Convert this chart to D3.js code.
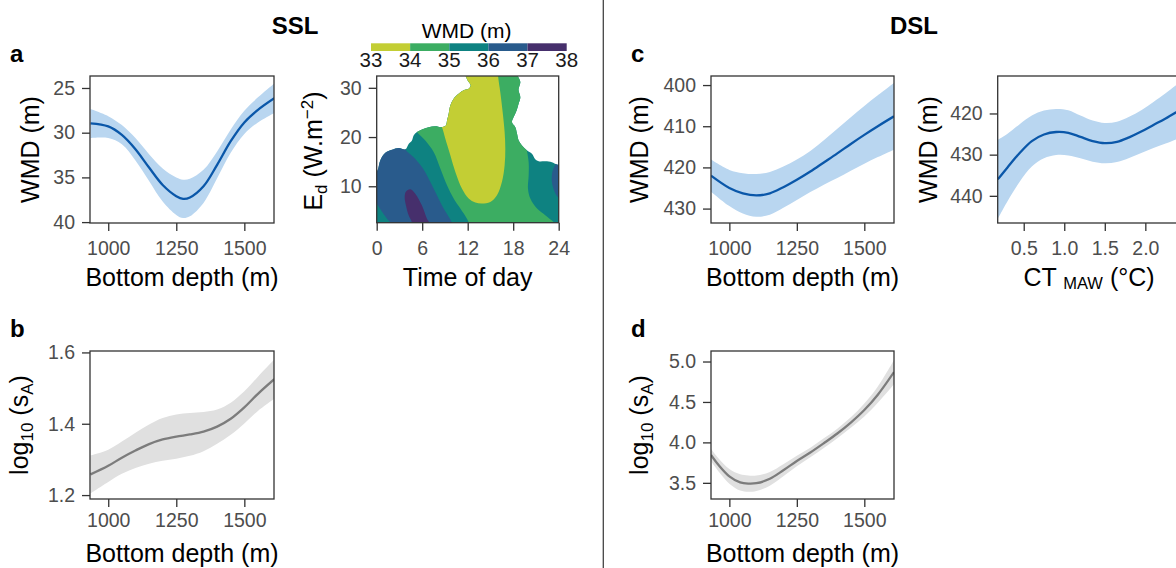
<!DOCTYPE html>
<html>
<head>
<meta charset="utf-8">
<script src="https://cdn.jsdelivr.net/npm/d3@7"></script>
<style>
  body { margin: 0; background: #ffffff; }
  svg { display: block; }
</style>
</head>
<body>
<div id="chart"></div>
<script>

// ---- panel a : SSL, WMD vs bottom depth ----
var depthA = [935, 1000, 1050, 1100, 1150, 1200, 1250, 1275, 1300, 1350, 1400, 1450, 1500, 1550, 1610];
var wmdA   = [28.95, 29.3, 30.25, 31.85, 33.9, 35.85, 37.1, 37.4, 37.25, 36.0, 33.6, 30.95, 28.85, 27.45, 26.15];
var wmdALo = [27.35, 28.15, 29.15, 30.6, 32.4, 34.0, 35.0, 35.25, 35.15, 34.15, 32.1, 29.65, 27.55, 26.05, 24.5];
var wmdAHi = [30.6, 30.6, 31.3, 33.1, 35.4, 37.7, 39.2, 39.55, 39.35, 37.85, 35.1, 32.25, 30.15, 28.85, 27.8];

// ---- panel b : SSL, log10(sA) vs bottom depth ----
var depthB = [935, 1000, 1050, 1100, 1150, 1200, 1250, 1300, 1350, 1400, 1450, 1500, 1550, 1610];
var saB    = [1.258, 1.282, 1.305, 1.325, 1.343, 1.356, 1.364, 1.370, 1.378, 1.392, 1.414, 1.446, 1.484, 1.525];
var saBLo  = [1.205, 1.237, 1.26, 1.276, 1.288, 1.296, 1.302, 1.31, 1.323, 1.344, 1.369, 1.401, 1.436, 1.47];
var saBHi  = [1.311, 1.327, 1.35, 1.375, 1.398, 1.416, 1.426, 1.43, 1.433, 1.44, 1.459, 1.491, 1.532, 1.58];

// ---- panel c : DSL, WMD vs bottom depth ----
var depthC = [932, 1000, 1050, 1100, 1150, 1200, 1250, 1300, 1350, 1400, 1450, 1500, 1550, 1610];
var wmdC   = [422.0, 425.0, 426.3, 426.8, 426.3, 424.8, 423.0, 421.0, 418.8, 416.6, 414.3, 412.1, 410.0, 407.6];
var wmdCLo = [418.1, 420.6, 421.4, 421.6, 421.1, 419.8, 418.1, 416.0, 413.4, 410.6, 407.8, 405.1, 402.5, 399.5];
var wmdCHi = [425.9, 429.4, 431.2, 432.0, 431.5, 429.8, 427.9, 426.0, 424.2, 422.6, 420.8, 419.1, 417.5, 415.7];

// ---- panel c (right) : DSL, WMD vs CT MAW ----
var ctE    = [0.18, 0.3, 0.45, 0.6, 0.75, 0.9, 1.05, 1.2, 1.35, 1.5, 1.65, 1.8, 1.95, 2.1, 2.25, 2.44];
var wmdE   = [436.0, 433.1, 429.6, 426.7, 425.1, 424.5, 424.7, 425.7, 426.7, 427.2, 426.9, 425.8, 424.4, 422.8, 421.2, 419.0];
var wmdELo = [426.4, 424.9, 422.6, 420.5, 419.3, 418.9, 419.2, 420.5, 421.7, 422.3, 422.0, 420.8, 419.2, 417.2, 415.1, 412.2];
var wmdEHi = [445.6, 441.3, 436.6, 432.9, 430.9, 430.1, 430.2, 430.9, 431.7, 432.1, 431.8, 430.8, 429.6, 428.4, 427.3, 425.8];

// ---- panel d : DSL, log10(sA) vs bottom depth ----
var depthD = [932, 960, 1000, 1040, 1070, 1100, 1150, 1200, 1250, 1300, 1350, 1400, 1450, 1500, 1550, 1610];
var saD    = [3.845, 3.72, 3.58, 3.505, 3.49, 3.495, 3.55, 3.655, 3.77, 3.875, 3.99, 4.11, 4.245, 4.40, 4.59, 4.87];
var saDLo  = [3.77, 3.64, 3.49, 3.405, 3.39, 3.40, 3.465, 3.58, 3.705, 3.815, 3.93, 4.05, 4.18, 4.32, 4.49, 4.72];
var saDHi  = [3.92, 3.80, 3.67, 3.605, 3.59, 3.59, 3.635, 3.73, 3.835, 3.935, 4.05, 4.17, 4.31, 4.48, 4.69, 5.02];

// ---- contour panel : WMD over time of day x Ed, boundaries as [hour, Ed] ----
var wmdLevels = [33, 34, 35, 36, 37, 38];
var wmdColors = ['#c3ce34', '#3cad62', '#0e8281', '#295b8c', '#462f6c'];

// outer edge of the predicted area (outside is blank)
var maskEdge = [[-0.3, 12.5], [0.1, 13.2], [0.48, 15.3], [1.14, 16.8], [2.02, 17.4], [2.9, 17.75],
  [3.78, 17.5], [4.21, 18.6], [4.65, 19.3], [4.87, 20.3], [5.31, 21.0], [5.97, 21.55], [6.85, 22.0],
  [7.73, 22.2], [8.5, 22.05], [9.1, 22.3], [9.3, 23.5], [9.49, 24.7], [9.71, 26.4], [10.15, 27.8],
  [10.81, 28.8], [11.47, 29.5], [12.13, 29.8], [12.4, 30.5], [12.0, 31.5], [11.7, 32.6], [11.6, 34.5],
  [18.5, 34.5], [18.6, 32.5], [18.94, 31.2], [18.7, 29.6], [18.94, 28.1], [18.72, 26.8], [18.45, 25.4],
  [18.06, 24.05], [17.84, 23.0], [18.28, 22.0], [18.5, 20.7], [18.72, 19.3], [19.16, 18.3], [19.8, 17.3],
  [20.47, 16.6], [20.9, 15.5], [21.36, 15.06], [22.23, 15.06], [23.1, 14.9], [23.77, 14.4], [24.5, 14.0]];
var maskTail = [[24.5, 1], [-0.3, 1]];

// 36-37 m band, left part
var blueEdge = [[3.6, 19.5], [3.78, 17.5], [4.87, 15.9], [5.97, 13.9], [6.85, 11.55], [7.73, 8.85],
  [8.61, 6.1], [9.49, 3.8], [9.93, 2.6], [10.2, 1.5]];
var blueCorner = [[1.9, 1.5], [1.8, 2.6], [1.36, 3.4], [0.7, 4.8], [0.17, 6.1], [-0.5, 7.4]];
var blueTail = [[-0.5, 19.5]];

// 36-37 m band, right sliver
var blueRight = [[24.5, 15.5], [23.77, 14.8], [23.46, 14.1], [23.16, 12.9], [23.1, 10.9], [23.38, 9.2],
  [23.77, 8.0], [24.5, 7.0]];

// 37-38 m
var purpleEdge = [[4.6, 1.5], [4.65, 2.6], [4.21, 4.1], [3.86, 6.1], [3.69, 7.8], [3.85, 8.9], [4.43, 9.4],
  [5.09, 8.5], [5.97, 6.1], [6.63, 3.4], [6.94, 2.6], [7.1, 1.5]];

// 34-35 m
var greenLeft = [[12.25, 1.5], [12.13, 2.6], [11.9, 3.4], [11.03, 5.46], [10.15, 7.5], [9.27, 10.2],
  [8.39, 13.6], [7.51, 16.96], [6.41, 19.3], [5.31, 21.0], [4.9, 22.5]];
var greenTop = [[4.9, 35], [20.3, 35], [20.3, 17.9]];
var greenRight = [[19.75, 17.6], [19.8, 17.3], [20.04, 14.9], [20.04, 12.2], [19.95, 9.5], [20.26, 7.5],
  [21.14, 5.46], [22.23, 4.1], [23.33, 2.76], [23.6, 2.5], [24.5, 1.8]];
var greenTail = [[24.5, 1.5]];

// 33-34 m
var yellowEdge = [[8.3, 22.8], [8.61, 22.0], [9.05, 19.66], [9.71, 16.3], [10.37, 12.9], [11.25, 9.5],
  [12.13, 7.5], [13.0, 6.7], [13.88, 6.5], [14.98, 6.8], [15.86, 8.17], [16.52, 10.9], [16.87, 14.25],
  [16.96, 17.6], [16.87, 21.0], [16.61, 25.1], [16.3, 29.1], [16.0, 32.5], [15.95, 35]];
var yellowTail = [[8.3, 35]];

// tick labels
var depthTicks = [1000, 1250, 1500];
var hourTicks = [0, 6, 12, 18, 24];
var edTicks = [10, 20, 30];
var ctTicks = [0.5, 1.0, 1.5, 2.0];


var font = 'Arial, "Liberation Sans", sans-serif';
var axis_color = '#333333';
var tick_color = '#4d4d4d';
var band_blue = '#b9d6f0', line_blue = '#0a57a9';
var band_grey = '#e0e0e0', line_grey = '#7c7c7c';

var svg = d3.select('#chart').append('svg')
  .attr('width', 1176)
  .attr('height', 568)
  .style('font-family', font);

svg.append('rect').attr('width', 1176).attr('height', 568).attr('fill', '#ffffff');


// set up scales + clip for one panel
function make_panel(id, box, xDomain, yDomain, reversed){
  var x = d3.scaleLinear().domain(xDomain).range([box.x0, box.x1]);
  var y = d3.scaleLinear().domain(yDomain)
    .range(reversed ? [box.y0, box.y1] : [box.y1, box.y0]);

  svg.append('clipPath').attr('id', 'clip_' + id)
    .append('rect')
    .attr('x', box.x0).attr('y', box.y0)
    .attr('width', box.x1 - box.x0).attr('height', box.y1 - box.y0);

  var g = svg.append('g').attr('clip-path', 'url(#clip_' + id + ')');
  return {x: x, y: y, g: g, box: box};
}

function draw_axes(p, xTicks, yTicks, xFmt, yFmt, xPad){
  var b = p.box;
  var gx = svg.append('g')
    .attr('transform', 'translate(0,' + b.y1 + ')')
    .call(d3.axisBottom(p.x).tickValues(xTicks).tickSize(8).tickPadding(xPad).tickFormat(xFmt));
  var gy = svg.append('g')
    .attr('transform', 'translate(' + b.x0 + ',0)')
    .call(d3.axisLeft(p.y).tickValues(yTicks).tickSize(8).tickPadding(7).tickFormat(yFmt));

  [gx, gy].forEach(function(a){
    a.attr('font-family', font).attr('font-size', 19.5);
    a.select('.domain').remove();
    a.selectAll('.tick line').attr('stroke', axis_color).attr('stroke-width', 1.3);
    a.selectAll('.tick text').attr('fill', tick_color);
  });

  // panel border
  svg.append('rect')
    .attr('x', b.x0).attr('y', b.y0)
    .attr('width', b.x1 - b.x0).attr('height', b.y1 - b.y0)
    .attr('fill', 'none')
    .attr('stroke', axis_color)
    .attr('stroke-width', 1.3);
}

// smooth fit + confidence ribbon
function draw_smooth(p, xs, fit, lo, hi, band, stroke){
  var rows = xs.map(function(v, i){ return {x: v, fit: fit[i], lo: lo[i], hi: hi[i]}; });

  var area = d3.area()
    .x(function(d){ return p.x(d.x); })
    .y0(function(d){ return p.y(d.lo); })
    .y1(function(d){ return p.y(d.hi); })
    .curve(d3.curveCatmullRom.alpha(0.5));

  var line = d3.line()
    .x(function(d){ return p.x(d.x); })
    .y(function(d){ return p.y(d.fit); })
    .curve(d3.curveCatmullRom.alpha(0.5));

  p.g.append('path').datum(rows).attr('d', area).attr('fill', band);
  p.g.append('path').datum(rows).attr('d', line)
    .attr('fill', 'none')
    .attr('stroke', stroke)
    .attr('stroke-width', 2.3);
}

// rotated y title, parts = [[text, size, dy], ...]
function y_title(xb, yc, parts){
  var t = svg.append('text')
    .attr('transform', 'translate(' + xb + ',' + yc + ') rotate(-90)')
    .attr('text-anchor', 'middle')
    .attr('fill', '#000');
  parts.forEach(function(pt){
    t.append('tspan').text(pt[0]).attr('font-size', pt[1]).attr('dy', pt[2]);
  });
}

function x_title(xc, yb, parts){
  var t = svg.append('text')
    .attr('x', xc).attr('y', yb)
    .attr('text-anchor', 'middle')
    .attr('fill', '#000');
  parts.forEach(function(pt){
    t.append('tspan').text(pt[0]).attr('font-size', pt[1]).attr('dy', pt[2]);
  });
}

var fmt0 = d3.format('d');
var fmt1 = d3.format('.1f');

var wmdTitle = [['WMD (m)', 25, 0]];
var saTitle = [['log', 25, 0], ['10', 17, 5], [' (s', 25, -5], ['A', 17, 5], [')', 25, -5]];
var depthTitle = [['Bottom depth (m)', 25, 0]];


// ---- panel a ----
var pa = make_panel('a', {x0: 90, x1: 274, y0: 76, y1: 223}, [933, 1609], [23.66, 40.1], true);
draw_smooth(pa, depthA, wmdA, wmdALo, wmdAHi, band_blue, line_blue);
draw_axes(pa, depthTicks, [25, 30, 35, 40], fmt0, fmt0, 10);
y_title(38.5, 149.5, wmdTitle);
x_title(182, 286, depthTitle);

// ---- panel b ----
var pb = make_panel('b', {x0: 90, x1: 274, y0: 351, y1: 499}, [933, 1609], [1.189, 1.604], false);
draw_smooth(pb, depthB, saB, saBLo, saBHi, band_grey, line_grey);
draw_axes(pb, depthTicks, [1.2, 1.4, 1.6], fmt0, fmt1, 6.5);
y_title(28, 425, saTitle);
x_title(182, 562, depthTitle);

// ---- panel c ----
var pc = make_panel('c', {x0: 711, x1: 894, y0: 76, y1: 223}, [932, 1610], [397.8, 433.5], true);
draw_smooth(pc, depthC, wmdC, wmdCLo, wmdCHi, band_blue, line_blue);
draw_axes(pc, depthTicks, [400, 410, 420, 430], fmt0, fmt0, 10);
y_title(648, 149.5, wmdTitle);
x_title(802.5, 286, depthTitle);

// ---- panel c, CT MAW ----
var pe = make_panel('e', {x0: 997.7, x1: 1181, y0: 76, y1: 223}, [0.179, 2.44], [410.9, 446.6], true);
draw_smooth(pe, ctE, wmdE, wmdELo, wmdEHi, band_blue, line_blue);
draw_axes(pe, ctTicks, [420, 430, 440], fmt1, fmt0, 10);
y_title(937, 149.5, wmdTitle);
x_title(1089, 286, [['CT ', 25, 0], [' MAW', 16.5, 3], [' (\u00b0C)', 25, -3]]);

// ---- panel d ----
var pd = make_panel('d', {x0: 711, x1: 894, y0: 351, y1: 499}, [932, 1610], [3.30, 5.13], false);
draw_smooth(pd, depthD, saD, saDLo, saDHi, band_grey, line_grey);
draw_axes(pd, depthTicks, [3.5, 4.0, 4.5, 5.0], fmt0, fmt1, 6.5);
y_title(648, 425, saTitle);
x_title(802.5, 562, depthTitle);


// ---- contour panel ----
var pk = make_panel('k', {x0: 376.7, x1: 558.7, y0: 76, y1: 222.7}, [0, 24], [2.6, 32.4], false);

function smooth_path(p, pts){
  return d3.line()
    .x(function(d){ return p.x(d[0]); })
    .y(function(d){ return p.y(d[1]); })
    .curve(d3.curveCatmullRom.alpha(0.5))(pts);
}

// join smooth pieces with straight links, then close through the tail points
function region_path(p, pieces, tail){
  var d = pieces.map(function(s, i){
    var s2 = smooth_path(p, s);
    return i === 0 ? s2 : 'L' + s2.slice(1);
  }).join('');
  tail.forEach(function(c){ d += 'L' + p.x(c[0]) + ',' + p.y(c[1]); });
  return d + 'Z';
}

svg.append('clipPath').attr('id', 'mask_clip')
  .append('path')
  .attr('d', region_path(pk, [maskEdge], maskTail));

var cg = pk.g.append('g').attr('clip-path', 'url(#mask_clip)');

// base fill 35-36
cg.append('rect')
  .attr('x', pk.box.x0).attr('y', pk.box.y0)
  .attr('width', pk.box.x1 - pk.box.x0).attr('height', pk.box.y1 - pk.box.y0)
  .attr('fill', wmdColors[2]);

cg.append('path').attr('d', region_path(pk, [blueEdge, blueCorner], blueTail)).attr('fill', wmdColors[3]);
cg.append('path').attr('d', region_path(pk, [blueRight], [])).attr('fill', wmdColors[3]);
cg.append('path').attr('d', region_path(pk, [purpleEdge], [])).attr('fill', wmdColors[4]);
cg.append('path').attr('d', region_path(pk, [greenLeft], []).slice(0, -1) +
    greenTop.map(function(c){ return 'L' + pk.x(c[0]) + ',' + pk.y(c[1]); }).join('') +
    'L' + smooth_path(pk, greenRight).slice(1) +
    greenTail.map(function(c){ return 'L' + pk.x(c[0]) + ',' + pk.y(c[1]); }).join('') + 'Z')
  .attr('fill', wmdColors[1]);
cg.append('path').attr('d', region_path(pk, [yellowEdge], yellowTail)).attr('fill', wmdColors[0]);

draw_axes(pk, hourTicks, edTicks, fmt0, fmt0, 10);
y_title(322, 151, [['E', 25, 0], ['d', 17, 5], [' (W.m', 25, -5], ['\u22122', 17, -9], [')', 25, 9]]);
x_title(467.7, 286, [['Time of day', 25, 0]]);

// legend (binned colour bar)
var lx = d3.scaleLinear().domain([wmdLevels[0], wmdLevels[wmdLevels.length - 1]]).range([371, 566.7]);

svg.selectAll('.leg_bin')
  .data(wmdColors)
  .enter()
  .append('rect')
  .attr('class', 'leg_bin')
  .attr('x', function(d, i){ return lx(wmdLevels[i]); })
  .attr('y', 43.3)
  .attr('width', function(d, i){ return lx(wmdLevels[i + 1]) - lx(wmdLevels[i]); })
  .attr('height', 7.7)
  .attr('fill', function(d){ return d; });

svg.selectAll('.leg_lab')
  .data(wmdLevels)
  .enter()
  .append('text')
  .attr('class', 'leg_lab')
  .attr('x', function(d){ return lx(d); })
  .attr('y', 66.7)
  .attr('text-anchor', 'middle')
  .attr('font-size', 20.5)
  .attr('fill', '#1a1a1a')
  .text(function(d){ return d; });

svg.append('text')
  .attr('x', 466.7).attr('y', 37.5)
  .attr('text-anchor', 'middle')
  .attr('font-size', 21)
  .text('WMD (m)');


// ---- titles, panel tags, divider ----
svg.append('text').attr('x', 295).attr('y', 34).attr('text-anchor', 'middle')
  .attr('font-size', 24).attr('font-weight', 'bold').text('SSL');
svg.append('text').attr('x', 914).attr('y', 34).attr('text-anchor', 'middle')
  .attr('font-size', 24).attr('font-weight', 'bold').text('DSL');

[['a', 10, 61.5], ['b', 10, 336.5], ['c', 631, 61.5], ['d', 631, 336.5]].forEach(function(t){
  svg.append('text').attr('x', t[1]).attr('y', t[2])
    .attr('font-size', 24).attr('font-weight', 'bold').text(t[0]);
});

svg.append('line')
  .attr('x1', 603.3).attr('x2', 603.3)
  .attr('y1', 0).attr('y2', 568)
  .attr('stroke', '#444444')
  .attr('stroke-width', 1.3);

</script>
</body>
</html>
